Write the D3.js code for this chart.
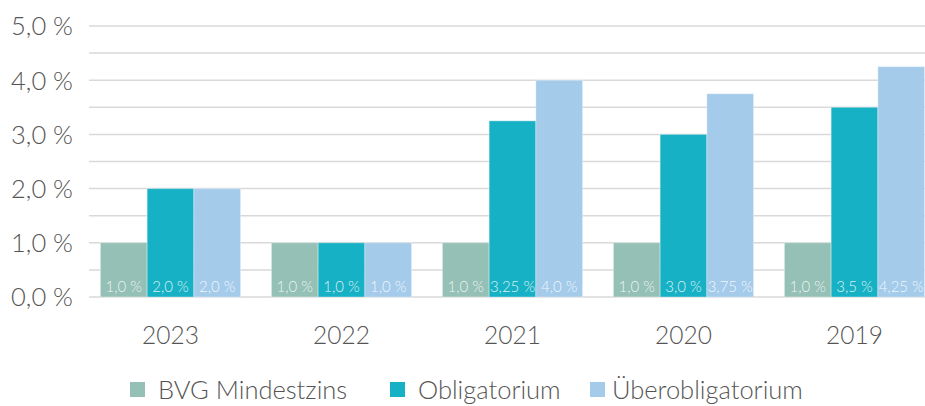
<!DOCTYPE html>
<html>
<head>
<meta charset="utf-8">
<script src="https://cdn.jsdelivr.net/npm/d3@7"></script>
<style>
  html, body { margin: 0; padding: 0; background: #fff; }
  svg text { font-family: Lato, "Open Sans", sans-serif; font-weight: 300; }
</style>
</head>
<body>
<svg id="chart" width="925" height="406"></svg>
<script>
// Zinssätze nach Jahr
const years = ["2023", "2022", "2021", "2020", "2019"];
const seriesNames = ["BVG Mindestzins", "Obligatorium", "Überobligatorium"];
const bvgMindestzins = [1.0, 1.0, 1.0, 1.0, 1.0];
const obligatorium = [2.0, 1.0, 3.25, 3.0, 3.5];
const ueberobligatorium = [2.0, 1.0, 4.0, 3.75, 4.25];
const yTicks = [0, 1, 2, 3, 4, 5];
const yGrid = [0, 0.5, 1, 1.5, 2, 2.5, 3, 3.5, 4, 4.5, 5];
const colors = ["#95c0b5", "#16b1c4", "#a5cbeb"];

const seriesValues = [bvgMindestzins, obligatorium, ueberobligatorium];
const fmt = v => {
  const s = (v % 1 === 0) ? v.toFixed(1) : String(v);
  return s.replace(".", ",") + " %";
};

const svg = d3.select("#chart");
const gridLeft = 89, gridRight = 925;

const y = d3.scaleLinear().domain([0, 5]).range([297, 26]);
const x0 = d3.scaleBand().domain(years).range([85, 940]).paddingInner(0.18).paddingOuter(0.09);
const x1 = d3.scaleBand().domain(seriesNames).range([0, x0.bandwidth()]);

// Gitterlinien
svg.append("g").selectAll("line").data(yGrid).join("line")
  .attr("x1", gridLeft).attr("x2", gridRight)
  .attr("y1", d => y(d)).attr("y2", d => y(d))
  .attr("stroke", "#d9d9d9").attr("stroke-width", 1.5);

// Y-Achse
const yAxis = d3.axisLeft(y).tickValues(yTicks).tickSize(0).tickPadding(0)
  .tickFormat(d => d.toFixed(1).replace(".", ",") + " %");
const ya = svg.append("g").attr("transform", "translate(73,0)").call(yAxis);
ya.select(".domain").remove();
ya.selectAll("text").attr("font-size", 25.5).attr("fill", "#555").attr("dy", "0.35em")
  .style("font-family", "Lato, sans-serif").style("font-weight", 300);

// Balken
const groups = svg.append("g").selectAll("g").data(years).join("g")
  .attr("transform", d => `translate(${x0(d)},0)`);

groups.selectAll("rect")
  .data((yr, i) => seriesNames.map((s, k) => ({ s, k, v: seriesValues[k][i] })))
  .join("rect")
  .attr("x", d => x1(d.s))
  .attr("width", x1.bandwidth())
  .attr("y", d => y(d.v))
  .attr("height", d => y(0) - y(d.v))
  .attr("fill", d => colors[d.k])
  .attr("stroke", "#fff").attr("stroke-opacity", 0.35).attr("stroke-width", 1);

groups.selectAll("text")
  .data((yr, i) => seriesNames.map((s, k) => ({ s, k, v: seriesValues[k][i] })))
  .join("text")
  .attr("x", d => x1(d.s) + x1.bandwidth() / 2)
  .attr("y", 292)
  .attr("text-anchor", "middle")
  .attr("font-size", 15)
  .attr("fill", "#fff").attr("fill-opacity", 0.85)
  .text(d => fmt(d.v));

// X-Achse
const xAxis = d3.axisBottom(x0).tickSize(0).tickPadding(0);
const xa = svg.append("g").attr("transform", "translate(0,335)").call(xAxis);
xa.select(".domain").remove();
xa.selectAll("text").attr("font-size", 24.5).attr("fill", "#555").attr("dy", "0.35em")
  .style("font-family", "Lato, sans-serif").style("font-weight", 300);

// Legende
const legendX = [130, 390, 590];
const lg = svg.append("g").selectAll("g").data(seriesNames).join("g")
  .attr("transform", (d, i) => `translate(${legendX[i]},382)`);
lg.append("rect").attr("width", 15).attr("height", 15).attr("fill", (d, i) => colors[i]);
lg.append("text").attr("x", (d, i) => i === 2 ? 22 : 28).attr("y", 8).attr("dy", "0.35em")
  .attr("font-size", 25.5).attr("fill", "#555").text(d => d);
</script>
</body>
</html>
